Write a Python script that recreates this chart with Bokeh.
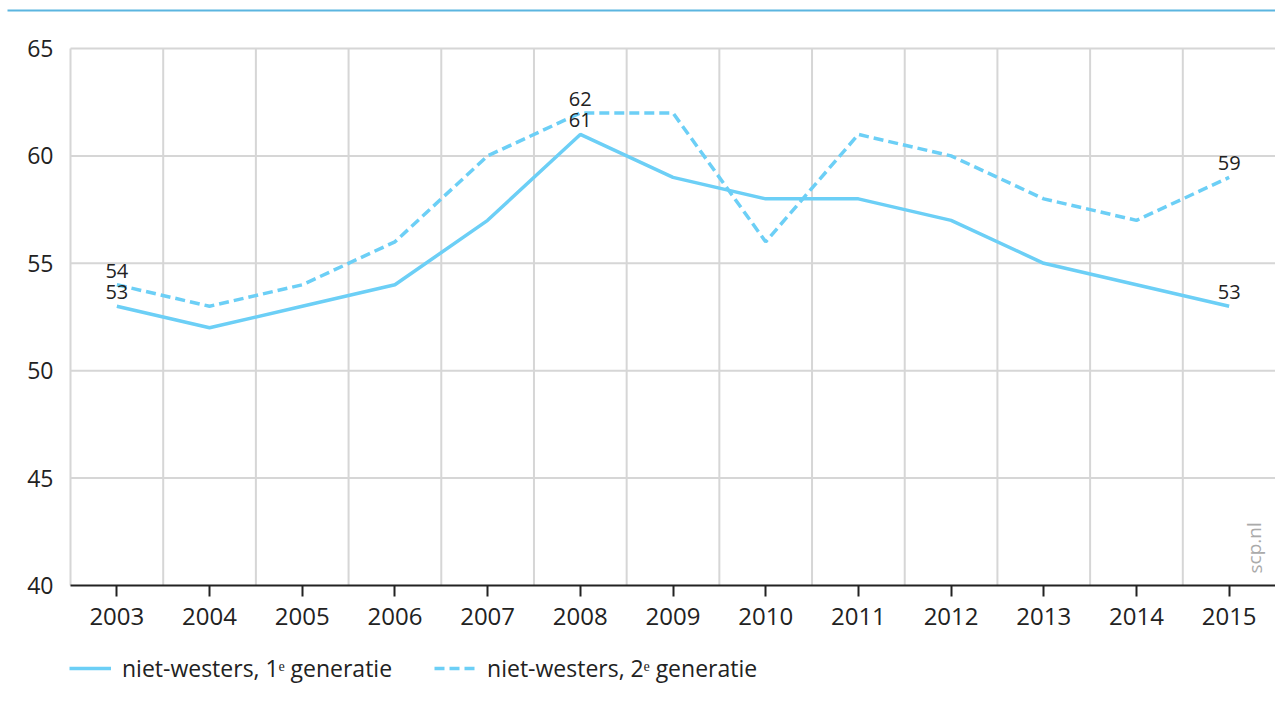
from bokeh.plotting import figure
from bokeh.models import ColumnDataSource, FixedTicker, Legend, LegendItem, Label
from bokeh.core.properties import value
from bokeh.embed import file_html
from bokeh.resources import INLINE

years = [2003, 2004, 2005, 2006, 2007, 2008, 2009, 2010, 2011, 2012, 2013, 2014, 2015]
gen1 = [53, 52, 53, 54, 57, 61, 59, 58, 58, 57, 55, 54, 53]
gen2 = [54, 53, 54, 56, 60, 62, 62, 56, 61, 60, 58, 57, 59]
series_names = ["niet-westers, 1ᵉ generatie", "niet-westers, 2ᵉ generatie"]
label_years = [2003, 2008, 2015]
y_ticks = [40, 45, 50, 55, 60, 65]

FONT = "Open Sans"
LINE_COLOR = "#6ccff6"
TEXT_COLOR = "#222222"
GRID_COLOR = "#d6d6d6"

# plot area: x 2002.5..2015.5 and y 40..65; the canvas extends around it
X0, X1 = 2002.5, 2015.5
Y0, Y1 = 40, 65
W, H = 1275, 705
FL, FT, FB = 70, 48, 585          # pixel edges of the data area
pxx = (W - FL) / (X1 - X0)
pxy = (FB - FT) / (Y1 - Y0)
xr = (X0 - FL / pxx, X1)
yr = (Y0 - (H - FB) / pxy, Y1 + FT / pxy)

p = figure(width=W, height=H, output_backend="svg", toolbar_location=None,
           x_range=xr, y_range=yr,
           min_border_top=0, min_border_left=0, min_border_right=0, min_border_bottom=0)
p.outline_line_color = None
p.background_fill_color = "white"
p.border_fill_color = "white"
p.xgrid.visible = False
p.ygrid.visible = False

# grid lines restricted to the data area
vgrid = [y + 0.5 for y in range(2002, 2015)]
p.segment(x0=vgrid, x1=vgrid, y0=[Y0] * len(vgrid), y1=[Y1] * len(vgrid),
          line_color=GRID_COLOR, line_width=2)
hgrid = y_ticks[1:]
p.segment(x0=[X0] * len(hgrid), x1=[X1] * len(hgrid), y0=hgrid, y1=hgrid,
          line_color=GRID_COLOR, line_width=2)

# top rule
p.segment(x0=[xr[0] + 7 / pxx], x1=[X1], y0=[Y1 + 38 / pxy], y1=[Y1 + 38 / pxy],
          line_color="#5bb5e0", line_width=2)

# axes
xa = p.xaxis[0]
xa.fixed_location = Y0
xa.bounds = (X0, X1)
xa.ticker = FixedTicker(ticks=years)
xa.axis_line_color = "#222222"
xa.axis_line_width = 2
xa.major_tick_line_color = "#222222"
xa.major_tick_line_width = 2
xa.major_tick_out = 11
xa.major_tick_in = 0
xa.minor_tick_line_color = None
xa.major_label_text_font = FONT
xa.major_label_text_font_size = "24px"
xa.major_label_text_color = TEXT_COLOR
xa.major_label_standoff = 11

ya = p.yaxis[0]
ya.fixed_location = X0
ya.ticker = FixedTicker(ticks=y_ticks)
ya.axis_line_color = None
ya.major_tick_line_color = None
ya.minor_tick_line_color = None
ya.major_label_text_font = FONT
ya.major_label_text_font_size = "23px"
ya.major_label_text_color = TEXT_COLOR
ya.major_label_standoff = 11

src = ColumnDataSource(dict(x=years, g1=gen1, g2=gen2))
r1 = p.line("x", "g1", source=src, line_color=LINE_COLOR, line_width=3.5)
r2 = p.line("x", "g2", source=src, line_color=LINE_COLOR, line_width=3.5, line_dash="10 5")

# value labels
lx, ly, lt = [], [], []
for yr_ in label_years:
    i = years.index(yr_)
    for s in (gen1, gen2):
        lx.append(yr_)
        ly.append(s[i])
        lt.append(str(s[i]))
p.text(x=lx, y=ly, text=lt, text_font=value(FONT), text_font_size="20px",
       text_color=TEXT_COLOR, text_align="center", text_baseline="alphabetic",
       y_offset=-14)

# watermark
p.add_layout(Label(x=X1, y=Y0, x_offset=-8, y_offset=12, text="scp.nl", angle=1.5708,
                   text_font=FONT, text_font_size="19px", text_color="#aaaaaa",
                   text_align="left", text_baseline="bottom"))

legend = Legend(items=[LegendItem(label=series_names[0], renderers=[r1]),
                       LegendItem(label=series_names[1], renderers=[r2])],
                orientation="horizontal", location=(FL - 1, 21),
                label_text_font=FONT, label_text_font_size="23px",
                label_text_color=TEXT_COLOR, glyph_width=42, glyph_height=20,
                label_standoff=11, spacing=42, padding=0, margin=0,
                border_line_color=None, background_fill_alpha=0)
p.add_layout(legend)

open("out.html", "w").write(file_html(p, INLINE))
